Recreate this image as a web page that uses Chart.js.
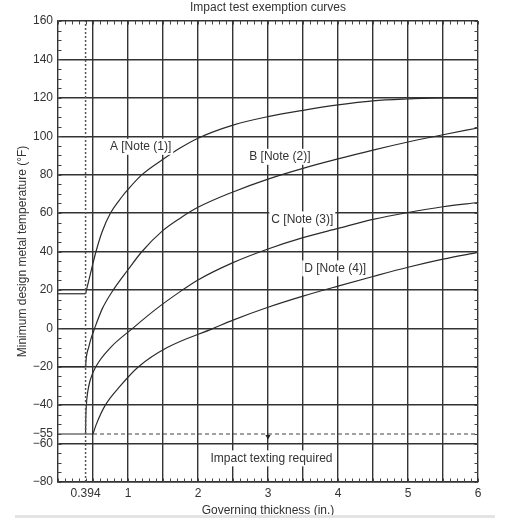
<!DOCTYPE html>
<html>
<head>
<meta charset="utf-8">
<script src="https://cdn.jsdelivr.net/npm/chart.js@4/dist/chart.umd.min.js"></script>
<style>
html,body{margin:0;padding:0;background:#fff;}
canvas{display:block;}
</style>
</head>
<body>
<canvas id="c" width="530" height="519"></canvas>
<script>
// ---- data (thickness in inches, temperature in °F) ----
const stepAx = [0, 0.394];
const stepAy = [18, 18];
const stepBx = [0, 0.394];
const stepBy = [-20, -20];
const stepCDx = [0, 0.5];
const stepCDy = [-55, -55];

const curveAx = [0.394, 0.42, 0.48, 0.543, 0.628, 0.75, 0.914, 1.0, 1.2, 1.5, 1.75, 2.0, 2.5, 3.0, 3.5, 4.0, 4.5, 5.0, 5.5, 6.0];
const curveAy = [18, 22, 31, 40, 50, 60, 68.5, 72.3, 80, 88, 94, 99, 105.8, 110.2, 113.5, 116.3, 118.4, 119.4, 120, 120];

const curveBx = [0.394, 0.405, 0.437, 0.475, 0.523, 0.63, 0.79, 1.0, 1.2, 1.5, 1.75, 2.0, 2.5, 3.0, 3.5, 4.0, 4.5, 5.0, 5.5, 6.0];
const curveBy = [-20, -15, -10, -5, 0, 10, 20, 30.5, 40, 51, 57.5, 63, 71, 77.7, 83.3, 88.2, 92.8, 97, 100.8, 104.3];

const curveCx = [0.394, 0.397, 0.405, 0.425, 0.46, 0.54, 0.75, 1.066, 1.4, 1.76, 2.0, 2.5, 3.0, 3.5, 4.0, 4.5, 5.0, 5.5, 6.0];
const curveCy = [-55, -47, -40, -33, -27, -20, -10, 0, 10, 19.5, 25.2, 34.2, 41.3, 47.2, 52, 56.7, 60.3, 63.3, 65.5];

const curveDx = [0.5, 0.547, 0.676, 0.89, 1.15, 1.56, 2.22, 2.5, 3.0, 3.5, 4.0, 4.5, 5.0, 5.5, 6.0];
const curveDy = [-55, -50, -40, -30, -20, -10, 0, 4.3, 11, 16.8, 22, 27, 31.8, 36, 39.5];

// reference lines
const minThickX = [0.394, 0.394];
const minThickY = [-80, 160];
const limitX = [0.5, 6];
const limitY = [-55, -55];
const arrowX = [3];
const arrowY = [-56.3];

// ticks
const xTickVals = [0, 0.394, 0.5, 1, 1.5, 2, 2.5, 3, 3.5, 4, 4.5, 5, 5.5, 6];
const xLabeled = [0.394, 1, 2, 3, 4, 5, 6];
const yTickVals = [-80, -60, -55, -40, -20, 0, 20, 40, 60, 80, 100, 120, 140, 160];

// annotations
const curveLabels = [
  {text: 'A [Note (1)]', x: 1.18, y: 94.5},
  {text: 'B [Note (2)]', x: 3.17, y: 89.3},
  {text: 'C [Note (3)]', x: 3.49, y: 56.7},
  {text: 'D [Note (4)]', x: 3.96, y: 31.2},
  {text: 'Impact texting required', x: 3.05, y: -67.7}
];

function pts(xs, ys) { return xs.map((v, i) => ({x: v, y: ys[i]})); }

const FONT = "'Liberation Sans', Arial, sans-serif";
const TXT = '#333';
const GRID = '#333';
const LINE = '#2b2b2b';
Chart.defaults.font.family = FONT;
Chart.defaults.font.size = 12;
Chart.defaults.color = TXT;

const lineDs = (data, extra) => Object.assign({
  data, showLine: true, pointRadius: 0, borderColor: LINE, borderWidth: 1.2, fill: false, tension: 0
}, extra || {});

const minorTicks = {
  id: 'minorTicks',
  afterDatasetsDraw(chart) {
    const {ctx, chartArea: a, scales: {x, y}} = chart;
    ctx.save();
    ctx.strokeStyle = '#444';
    ctx.lineWidth = 1;
    ctx.beginPath();
    for (let i = 0; i <= 60; i++) {
      const px = Math.round(x.getPixelForValue(i / 10)) + 0.5;
      ctx.moveTo(px, a.bottom); ctx.lineTo(px, a.bottom - 3.5);
      ctx.moveTo(px, a.top); ctx.lineTo(px, a.top + 3.5);
    }
    for (let v = -80; v <= 160; v += 5) {
      const py = Math.round(y.getPixelForValue(v)) + 0.5;
      ctx.moveTo(a.left, py); ctx.lineTo(a.left + 3.5, py);
      ctx.moveTo(a.right, py); ctx.lineTo(a.right - 3.5, py);
    }
    ctx.stroke();
    ctx.restore();
  }
};

const textLabels = {
  id: 'textLabels',
  afterDatasetsDraw(chart) {
    const {ctx, scales: {x, y}} = chart;
    ctx.save();
    ctx.font = '12px ' + FONT;
    ctx.textAlign = 'center';
    ctx.textBaseline = 'middle';
    curveLabels.forEach(l => {
      const px = x.getPixelForValue(l.x), py = y.getPixelForValue(l.y);
      const w = ctx.measureText(l.text).width;
      ctx.fillStyle = '#fff';
      ctx.fillRect(px - w / 2 - 2, py - 8, w + 4, 16);
      ctx.fillStyle = TXT;
      ctx.fillText(l.text, px, py);
    });
    ctx.restore();
  },
  afterDraw(chart) {
    const ctx = chart.ctx;
    ctx.save();
    ctx.fillStyle = '#e4e4e4';
    ctx.fillRect(15, 515, 480, 3);
    ctx.restore();
  }
};

new Chart(document.getElementById('c'), {
  type: 'scatter',
  data: {
    datasets: [
      lineDs(pts(minThickX, minThickY), {borderColor: '#555', borderWidth: 1.5, borderDash: [2, 2]}),
      lineDs(pts(limitX, limitY), {borderColor: '#444', borderWidth: 1.2, borderDash: [4, 3]}),
      lineDs(pts(stepAx, stepAy)),
      lineDs(pts(stepBx, stepBy)),
      lineDs(pts(stepCDx, stepCDy)),
      lineDs(pts(curveAx, curveAy), {cubicInterpolationMode: 'monotone'}),
      lineDs(pts(curveBx, curveBy), {cubicInterpolationMode: 'monotone'}),
      lineDs(pts(curveCx, curveCy), {cubicInterpolationMode: 'monotone'}),
      lineDs(pts(curveDx, curveDy), {cubicInterpolationMode: 'monotone'}),
      {data: pts(arrowX, arrowY), showLine: false, pointStyle: 'triangle', rotation: 180,
       pointRadius: 3, backgroundColor: '#222', borderColor: '#222', borderWidth: 0}
    ]
  },
  options: {
    responsive: false,
    animation: false,
    events: [],
    layout: {padding: {left: 0, right: 52, top: 0, bottom: 0}},
    plugins: {
      legend: {display: false},
      tooltip: {enabled: false},
      title: {
        display: true, fullSize: false,
        text: 'Impact test exemption curves',
        color: TXT, font: {size: 12, weight: 'normal'},
        padding: {top: 0, bottom: 6.6}
      }
    },
    scales: {
      x: {
        type: 'linear', min: 0, max: 6, position: 'bottom',
        afterBuildTicks: s => { s.ticks = xTickVals.map(v => ({value: v})); },
        afterFit: s => { s.height = 37; },
        ticks: {
          autoSkip: false, maxRotation: 0, padding: 4, color: TXT,
          callback: v => xLabeled.includes(v) ? String(v) : ''
        },
        grid: {
          drawTicks: false, lineWidth: 1.4,
          color: c => (c.tick && (c.tick.value === 0.394 || c.tick.value === 0)) ? 'rgba(0,0,0,0)' : GRID
        },
        border: {display: true, color: GRID, width: 1.4},
        title: {display: true, text: 'Governing thickness (in.)', color: TXT, font: {size: 12}, padding: {top: 0, bottom: 1}}
      },
      y: {
        type: 'linear', min: -80, max: 160, position: 'left',
        afterBuildTicks: s => { s.ticks = yTickVals.map(v => ({value: v})); },
        afterFit: s => { s.width = 58; },
        ticks: {
          autoSkip: false, padding: 5, color: TXT,
          callback: v => v < 0 ? '\u2212' + Math.abs(v) : String(v)
        },
        grid: {
          drawTicks: false, lineWidth: 1.4,
          color: c => (c.tick && c.tick.value === -55) ? 'rgba(0,0,0,0)' : GRID
        },
        border: {display: true, color: GRID, width: 1.4},
        title: {display: true, text: 'Minimum design metal temperature (°F)', color: TXT, font: {size: 12}, padding: {top: 15, bottom: 0}}
      }
    }
  },
  plugins: [minorTicks, textLabels]
});
</script>
</body>
</html>
